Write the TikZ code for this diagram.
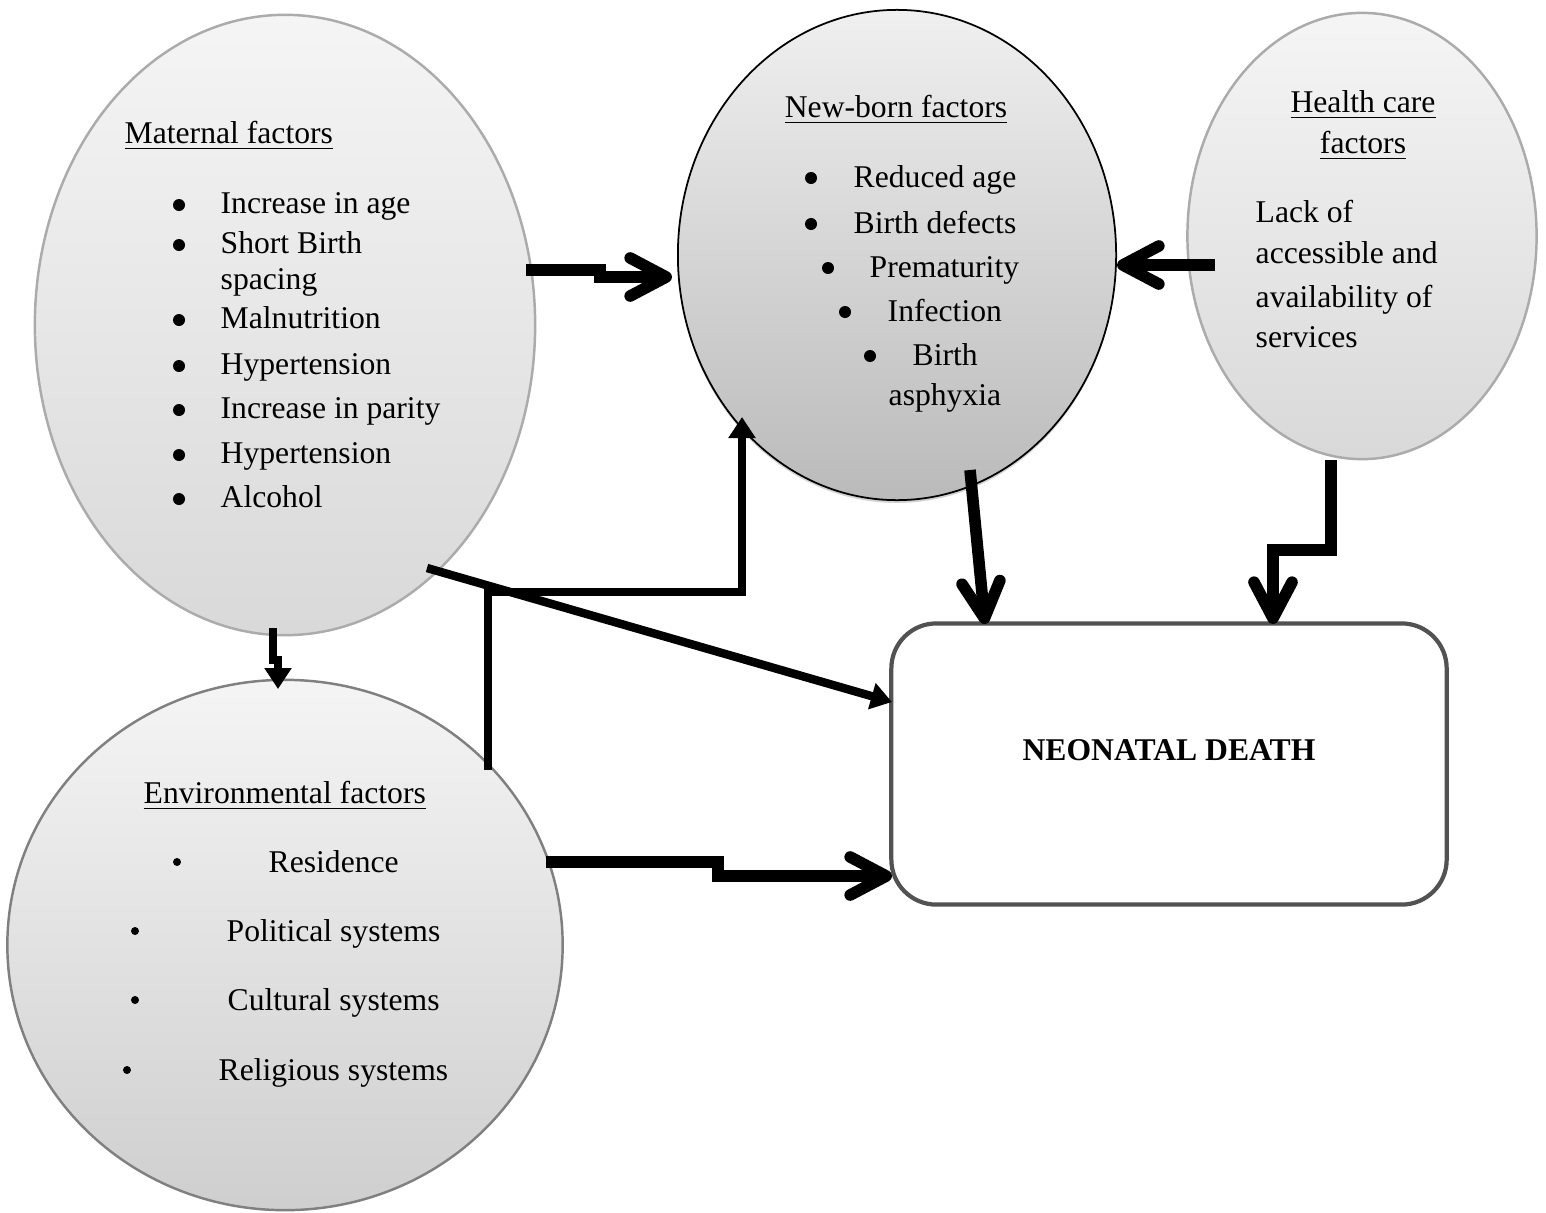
\documentclass[tikz,border=0pt]{standalone}
\usepackage{fontspec}
\setmainfont{Liberation Serif}
\usetikzlibrary{shapes,arrows.meta,shadows}

\begin{document}
\begin{tikzpicture}[x=0.01cm, y=-0.01cm]
	\tikzstyle{Oval}	= [ellipse, inner sep=0pt, line width=0.7pt]
	\tikzstyle{Pale}	= [draw=black!33, top color=black!4, bottom color=black!15]
	\tikzstyle{Dark}	= [draw=black, line width=0.5pt, top color=black!6, bottom color=black!27, drop shadow={shadow xshift=0pt, shadow yshift=-0.8pt, opacity=0.35}]
	\tikzstyle{Txt}		= [inner sep=0pt, font=\fontsize{9}{11}\selectfont]
	\tikzstyle{Item}	= [Txt, anchor=base west]
	\tikzstyle{Head}	= [Txt, anchor=base]
	\tikzstyle{Dot}		= [circle, fill=black, inner sep=0pt, minimum size=1.2mm]
	\tikzstyle{Pt}		= [circle, fill=black, inner sep=0pt, minimum size=0.8mm]
	\tikzstyle{Heavy}	= [line width=3.3pt, -{Straight Barb[length=3.6mm, width=3.8mm, round]}]
	\tikzstyle{Lite}	= [line width=2.4pt, -{Triangle[length=2.1mm, width=2.6mm]}]

	\useasboundingbox (0,0) rectangle (1546,1212);

	% groups of factors and the outcome
	\node (mat) at (285,325) [Oval][Pale][minimum width=5cm, minimum height=6.2cm] {};
	\node (nb) at (897,255) [Oval][Dark][minimum width=4.38cm, minimum height=4.9cm] {};
	\node (hc) at (1362,236) [Oval][Pale][minimum width=3.49cm, minimum height=4.46cm] {};
	\node (env) at (285,945) [Oval][Pale][draw=black!50, bottom color=black!19, minimum width=5.55cm, minimum height=5.3cm] {};
	\node (box) at (1169,764) [draw=black!68, line width=1.2pt, rounded corners=4.5mm, minimum width=5.55cm, minimum height=2.81cm] {};

	% maternal
	\node (tm) at (124,143) [Item] {\underline{Maternal factors}};
	\node (m1) at (220,213) [Item] {Increase in age};
	\node (m2) at (220,253) [Item] {Short Birth};
	\node (m2b) at (220,289) [Item] {spacing};
	\node (m3) at (220,328) [Item] {Malnutrition};
	\node (m4) at (220,374) [Item] {Hypertension};
	\node (m5) at (220,418) [Item] {Increase in parity};
	\node (m6) at (220,463) [Item] {Hypertension};
	\node (m7) at (220,507) [Item] {Alcohol};
	\node (dm1) at (179,205) [Dot] {};
	\node (dm2) at (179,245) [Dot] {};
	\node (dm3) at (179,320) [Dot] {};
	\node (dm4) at (179,366) [Dot] {};
	\node (dm5) at (179,410) [Dot] {};
	\node (dm6) at (179,455) [Dot] {};
	\node (dm7) at (179,499) [Dot] {};

	% new-born
	\node (tn) at (896,117) [Head] {\underline{New-born factors}};
	\node (n1) at (853,187) [Item] {Reduced age};
	\node (n2) at (853,233) [Item] {Birth defects};
	\node (n3) at (869,277) [Item] {Prematurity};
	\node (n4) at (887,321) [Item] {Infection};
	\node (n5) at (912,365) [Item] {Birth};
	\node (n5b) at (888,405) [Item] {asphyxia};
	\node (dn1) at (811,178) [Dot] {};
	\node (dn2) at (811,224) [Dot] {};
	\node (dn3) at (828,268) [Dot] {};
	\node (dn4) at (845,312) [Dot] {};
	\node (dn5) at (870,356) [Dot] {};

	% health care
	\node (th1) at (1363,112) [Head] {\underline{Health care}};
	\node (th2) at (1363,153) [Head] {\underline{factors}};
	\node (h1) at (1255,222) [Item] {Lack of};
	\node (h2) at (1255,263) [Item] {accessible and};
	\node (h3) at (1255,307) [Item] {availability of};
	\node (h4) at (1255,347) [Item] {services};

	% environmental
	\node (te) at (143,803) [Item] {\underline{Environmental factors}};
	\node (e1) at (268,872) [Item] {Residence};
	\node (e2) at (226,941) [Item] {Political systems};
	\node (e3) at (227,1010) [Item] {Cultural systems};
	\node (e4) at (218,1080) [Item] {Religious systems};
	\node (de1) at (177,862) [Pt] {};
	\node (de2) at (135,931) [Pt] {};
	\node (de3) at (135,1000) [Pt] {};
	\node (de4) at (127,1070) [Pt] {};

	\node (nd) at (1169,760) [Head, font=\fontsize{9}{11}\selectfont\bfseries] {NEONATAL DEATH};

	% connector ends
	\coordinate (am) at (526,270);
	\coordinate (an) at (672,277);
	\coordinate (ah) at (1215,265);
	\coordinate (bn) at (970,470);
	\coordinate (bd) at (985,624);
	\coordinate (ch) at (1331,460);
	\coordinate (cd) at (1273,624);
	\coordinate (dm) at (273,628);
	\coordinate (de) at (278,689);
	\coordinate (em) at (427,568);
	\coordinate (ed) at (892,702);
	\coordinate (fe) at (488,770);
	\coordinate (fn) at (742,417);
	\coordinate (ge) at (546,862);
	\coordinate (gd) at (892,876);

	\draw [Heavy] (am) -- ++(74,0) -- ++(0,7) -- (an);
	\draw [Heavy] (ah) -- (ah -| nb.east);
	\draw [Heavy] (bn) -- (bd);
	\draw [Heavy] (ch) -- ++(0,90) -| (cd);
	\draw [Lite] (dm) -- ++(0,32) -| (de);
	\draw [Lite] (em) -- (ed);
	\draw [Lite] (fe) -- ++(0,-178) -| (fn);
	\draw [Heavy] (ge) -- ++(172,0) |- (gd);
\end{tikzpicture}
\end{document}
